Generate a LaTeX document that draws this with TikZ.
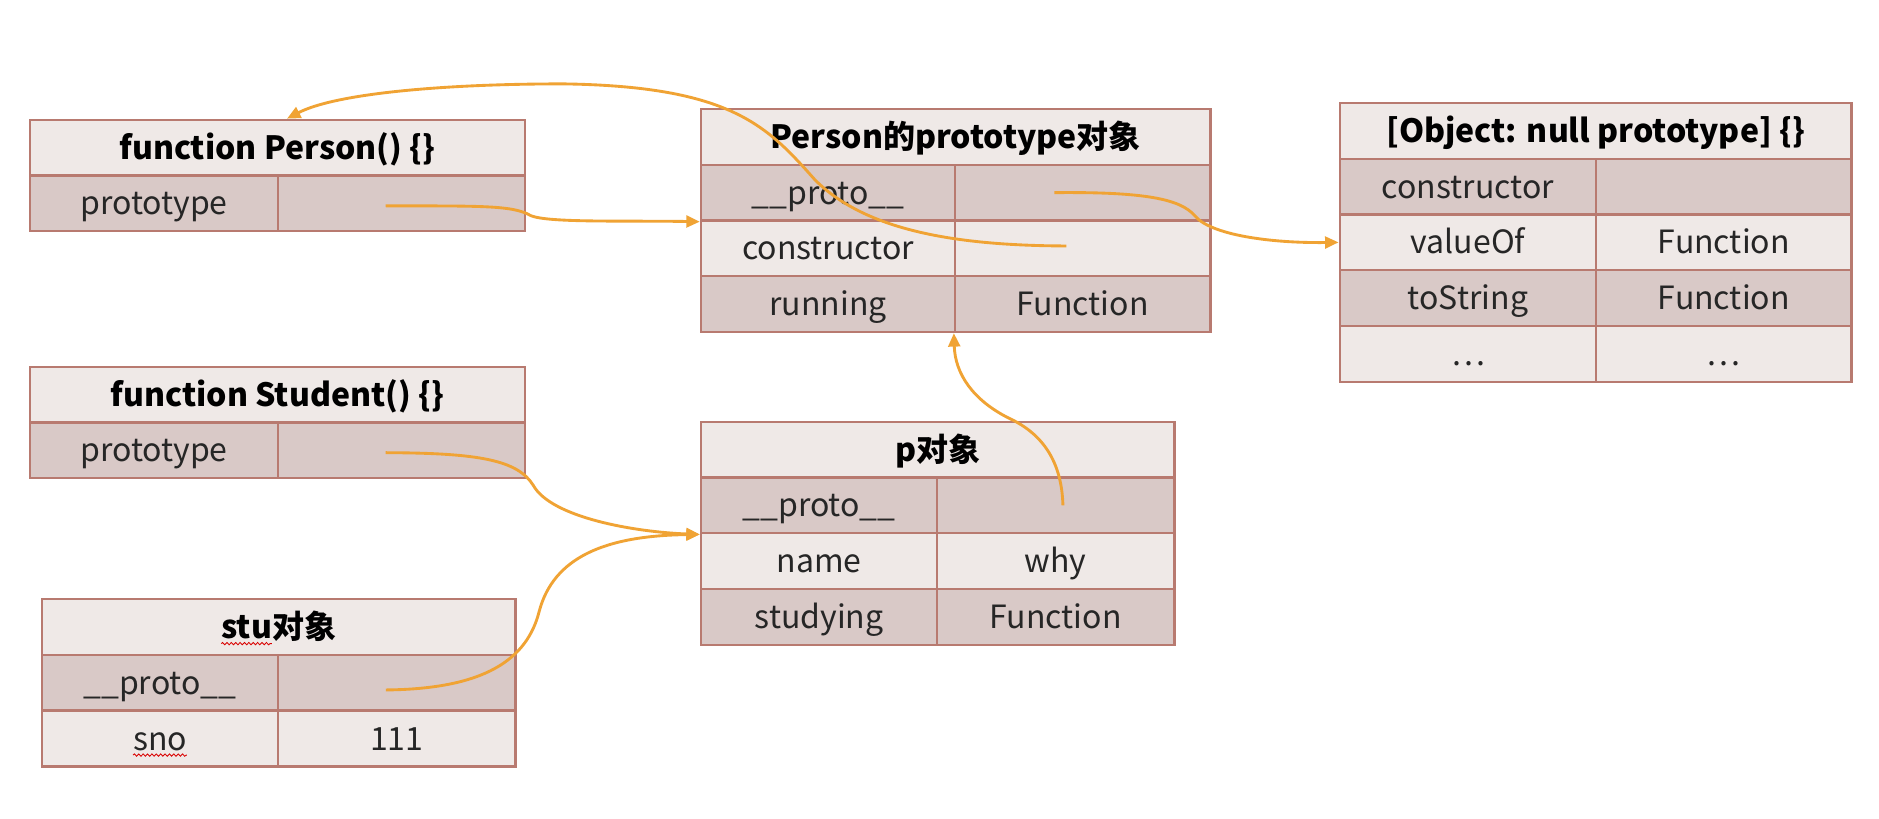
\documentclass[tikz,border=0pt]{standalone}
\usepackage{fontspec}
\setmainfont{Noto Sans CJK SC}
\usetikzlibrary{arrows.meta,calc,decorations.pathmorphing}
\definecolor{lt}{RGB}{239,233,231}
\definecolor{dk}{RGB}{217,201,199}
\definecolor{bd}{RGB}{184,122,112}
\definecolor{org}{RGB}{240,163,52}
\newcommand\redwave[1]{\tikz[baseline=(w.base)]{\node[inner sep=0pt, outer sep=0pt, minimum size=0pt, draw=none, fill=none] (w) {#1};
 \draw[red!85!black, line width=0.5pt, decorate, decoration={snake, amplitude=0.7pt, segment length=2.6pt}] ([yshift=-3pt]w.base west) -- ([yshift=-3pt]w.base east);}}
\begin{document}
\begin{tikzpicture}[x=0.025cm,y=-0.025cm,
 cell/.style={draw=bd, line width=1.4pt, inner sep=0pt, minimum height=1.1625cm,
   font=\fontsize{19}{22}\selectfont, text=black!85, text height=15pt, text depth=1.3pt},
 hd/.style={cell, fill=lt, font=\fontsize{19}{22}\selectfont\bfseries, text=black},
 lrow/.style={cell, fill=lt},
 drow/.style={cell, fill=dk},
 link/.style={draw=org, line width=1.7pt, -{Triangle[length=8pt,width=7pt]}},
]
\useasboundingbox[fill=white] (0,0) rectangle (1568,683);

% function Person
\node[hd, minimum width=10.325cm] (Ah) at (231.5,123.25) {function Person() \{\}};
\node[drow, minimum width=5.175cm] (Ak1) at (128.5,169.75) {prototype};
\node[drow, minimum width=5.15cm] (Av1) at (335,169.75) {};

% Person prototype
\node[hd, minimum width=10.625cm] (Bh) at (797.5,114.25) {Person的prototype对象};
\node[drow, minimum width=5.3cm] (Bk1) at (691,160.75) {\_\_proto\_\_};
\node[drow, minimum width=5.325cm] (Bv1) at (903.5,160.75) {};
\node[lrow, minimum width=5.3cm] (Bk2) at (691,207.25) {constructor};
\node[lrow, minimum width=5.325cm] (Bv2) at (903.5,207.25) {};
\node[drow, minimum width=5.3cm] (Bk3) at (691,253.75) {running};
\node[drow, minimum width=5.325cm] (Bv3) at (903.5,253.75) {Function};

% Object null prototype
\node[hd, minimum width=10.675cm] (Ch) at (1331.5,109.25) {[Object: null prototype] \{\}};
\node[drow, minimum width=5.35cm] (Ck1) at (1225,155.75) {constructor};
\node[drow, minimum width=5.325cm] (Cv1) at (1438.5,155.75) {};
\node[lrow, minimum width=5.35cm] (Ck2) at (1225,202.25) {valueOf};
\node[lrow, minimum width=5.325cm] (Cv2) at (1438.5,202.25) {Function};
\node[drow, minimum width=5.35cm] (Ck3) at (1225,248.75) {toString};
\node[drow, minimum width=5.325cm] (Cv3) at (1438.5,248.75) {Function};
\node[lrow, minimum width=5.35cm] (Ck4) at (1225,295.25) {…};
\node[lrow, minimum width=5.325cm] (Cv4) at (1438.5,295.25) {…};

% function Student
\node[hd, minimum width=10.325cm] (Dh) at (231.5,329.25) {function Student() \{\}};
\node[drow, minimum width=5.175cm] (Dk1) at (128.5,375.75) {prototype};
\node[drow, minimum width=5.15cm] (Dv1) at (335,375.75) {};

% p object
\node[hd, minimum width=9.875cm] (Eh) at (782.5,375.25) {p对象};
\node[drow, minimum width=4.925cm] (Ek1) at (683.5,421.75) {\_\_proto\_\_};
\node[drow, minimum width=4.95cm] (Ev1) at (881,421.75) {};
\node[lrow, minimum width=4.925cm] (Ek2) at (683.5,468.25) {name};
\node[lrow, minimum width=4.95cm] (Ev2) at (881,468.25) {why};
\node[drow, minimum width=4.925cm] (Ek3) at (683.5,514.75) {studying};
\node[drow, minimum width=4.95cm] (Ev3) at (881,514.75) {Function};

% stu object
\node[hd, minimum width=9.875cm] (Fh) at (232.5,523.25) {\redwave{stu}对象};
\node[drow, minimum width=4.925cm] (Fk1) at (133.5,569.75) {\_\_proto\_\_};
\node[drow, minimum width=4.95cm] (Fv1) at (331,569.75) {};
\node[lrow, minimum width=4.925cm] (Fk2) at (133.5,616.25) {\redwave{sno}};
\node[lrow, minimum width=4.95cm] (Fv2) at (331,616.25) {111};

% connectors
\draw[link] ([xshift=-0.33cm,yshift=-0.05cm]Av1.center) .. controls (400,172) and (428,171) .. (443,180) .. controls (458,186) and (520,184) .. (Bk1.south west);
\draw[link] ([xshift=-0.34cm,yshift=0.05cm]Bv2.center) .. controls (790,205) and (720,190) .. (680,150) .. controls (640,105) and (610,72) .. (470,70) .. controls (370,70) and (280,78) .. ([xshift=0.2cm]Ah.north);
\draw[link] ([xshift=-0.59cm]Bv1.center) .. controls (955,160) and (985,166) .. (997,180) .. controls (1010,196) and (1060,203) .. (Ck2.west);
\draw[link] ([xshift=-0.33cm,yshift=-0.05cm]Dv1.center) .. controls (400,378) and (432,384) .. (445,405) .. controls (460,432) and (530,444) .. (Ek1.south west);
\draw[link] ([xshift=-0.225cm,yshift=-0.15cm]Fv1.center) .. controls (405,575) and (440,550) .. (450,510) .. controls (462,465) and (505,447) .. (Ek1.south west);
\draw[link] ([xshift=0.15cm]Ev1.center) .. controls (886,385) and (870,362) .. (842,349) .. controls (812,334) and (797,312) .. (Bv3.south west);
\end{tikzpicture}
\end{document}
